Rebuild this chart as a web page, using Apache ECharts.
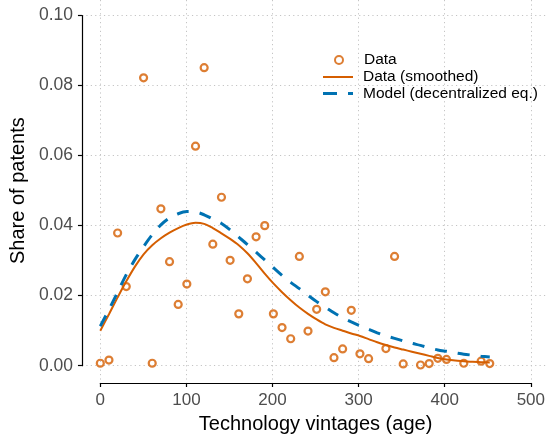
<!DOCTYPE html>
<html>
<head>
<meta charset="utf-8">
<script src="https://cdn.jsdelivr.net/npm/echarts@6/dist/echarts.min.js"></script>
<style>
  html, body { margin: 0; padding: 0; background: #fff; }
  #chart { width: 548px; height: 440px; }
</style>
</head>
<body>
<div id="chart"></div>
<script>
// observed shares by technology vintage
const dataAge = [0, 10, 20, 30, 50, 60, 70, 80, 90, 100, 110, 120, 130, 140, 150, 160, 170, 180, 190, 200,
    210, 220, 230, 240, 250, 260, 270, 280, 290, 300, 310, 330, 340, 350, 370, 380, 390, 400, 420, 440, 450];
const dataShare = [0.0007, 0.0016, 0.0379, 0.0226, 0.0822, 0.0007, 0.0448, 0.0297, 0.0175, 0.0233, 0.0627, 0.0851,
    0.0347, 0.0481, 0.0301, 0.0148, 0.0248, 0.0368, 0.0400, 0.0148, 0.0109, 0.0077, 0.0312, 0.0099, 0.0161,
    0.0211, 0.0023, 0.0048, 0.0158, 0.0034, 0.0020, 0.0049, 0.0312, 0.0005, 0.0002, 0.0006, 0.0021, 0.0018,
    0.0007, 0.0013, 0.0006];

// curves (smoothed data and model)
const curveAge = [0, 10, 20, 30, 40, 50, 60, 70, 80, 90, 100, 110, 120, 130, 140, 150, 160, 170, 180, 190, 200,
    210, 220, 230, 240, 250, 260, 270, 280, 290, 300, 310, 320, 330, 340, 350, 360, 370, 380, 390, 400,
    410, 420, 430, 440, 450];
const smoothShare = [0.0100, 0.0147, 0.0195, 0.0241, 0.0283, 0.0318, 0.0344, 0.0364, 0.0380, 0.0393, 0.0403,
    0.0408, 0.0405, 0.0393, 0.0378, 0.0362, 0.0344, 0.0321, 0.0293, 0.0263, 0.0235, 0.0210, 0.0187, 0.0166,
    0.0148, 0.0132, 0.0118, 0.0108, 0.0100, 0.0092, 0.0085, 0.0076, 0.0067, 0.0059, 0.0052, 0.0046, 0.0040,
    0.0034, 0.0028, 0.0022, 0.0018, 0.0015, 0.0013, 0.0011, 0.0010, 0.0009];
const modelShare = [0.0113, 0.0160, 0.0210, 0.0260, 0.0303, 0.0340, 0.0374, 0.0402, 0.0422, 0.0434, 0.0440,
    0.0439, 0.0431, 0.0419, 0.0406, 0.0388, 0.0367, 0.0346, 0.0324, 0.0302, 0.0280, 0.0258, 0.0238, 0.0220,
    0.0201, 0.0183, 0.0167, 0.0151, 0.0137, 0.0125, 0.0114, 0.0104, 0.0094, 0.0085, 0.0078, 0.0071, 0.0064,
    0.0058, 0.0051, 0.0045, 0.0041, 0.0037, 0.0033, 0.0030, 0.0027, 0.0025];

const orange = '#D55E00';
const blue = '#0072B2';
const font = 'Liberation Sans, Arial, sans-serif';

const chart = echarts.init(document.getElementById('chart'));

const gridLine = { show: true, lineStyle: { color: '#C4C4C4', width: 1, type: [1.2, 3.2] } };
const legendText = { fontSize: 15.5, lineHeight: 16.5, color: '#000', padding: [0, 0, 0, 5] };

chart.setOption({
    animation: false,
    textStyle: { fontFamily: font },
    grid: [
        { left: 80, right: 0, top: 0, bottom: 57 },        // panel holding the marks
        { left: 100.3, right: 15, top: 0, bottom: 57 },    // x axis 0..500
        { left: 80, right: 0, top: 15.5, bottom: 74.3 }     // y axis 0..0.10
    ],
    legend: [
        {
            data: ['Data'],
            orient: 'vertical',
            left: 334, top: 51.75, padding: 0,
            itemWidth: 30, itemHeight: 8,
            textStyle: legendText
        },
        {
            // line keys drawn as plain bars so no marker sits on them
            data: [
                { name: 'Data (smoothed)', icon: 'path://M0,0h30v2h-30z' },
                { name: 'Model (decentralized eq.)', icon: 'path://M0,0h14v3h-14z M25,0h5v3h-5z' }
            ],
            orient: 'vertical',
            left: 323, top: 68.75, padding: 0,
            itemWidth: 30, itemHeight: 3, itemGap: 0,
            itemStyle: { borderWidth: 0 },
            textStyle: legendText
        }
    ],
    xAxis: [
        { gridIndex: 0, type: 'value', min: -23.46, max: 517.3, show: false },
        {
            gridIndex: 1, type: 'value', min: 0, max: 500, interval: 100,
            name: 'Technology vintages (age)', nameLocation: 'middle', nameGap: 31,
            nameTextStyle: { fontSize: 20, color: '#000' },
            axisLine: { onZero: false, lineStyle: { color: '#000', width: 1.2 } },
            axisTick: { length: 4, lineStyle: { color: '#000', width: 1.2 } },
            axisLabel: { fontSize: 17, color: '#4D4D4D', margin: 9 },
            splitLine: gridLine
        },
        { gridIndex: 2, type: 'value', min: 0, max: 1, show: false }
    ],
    yAxis: [
        { gridIndex: 0, type: 'value', min: -0.00494, max: 0.10443, show: false },
        { gridIndex: 1, type: 'value', min: 0, max: 1, show: false },
        {
            gridIndex: 2, type: 'value', min: 0, max: 0.1, interval: 0.02,
            name: 'Share of patents', nameLocation: 'middle', nameGap: 50,
            nameTextStyle: { fontSize: 20, color: '#000' },
            axisLine: { show: true, onZero: false, lineStyle: { color: '#000', width: 1.2 } },
            axisTick: { show: true, length: 4, lineStyle: { color: '#000', width: 1.2 } },
            axisLabel: { fontSize: 17.5, color: '#4D4D4D', margin: 9, formatter: v => v.toFixed(2) },
            splitLine: gridLine
        }
    ],
    series: [
        {
            name: 'Data',
            type: 'scatter',
            xAxisIndex: 0, yAxisIndex: 0,
            symbol: 'circle',
            symbolSize: 7,
            itemStyle: { color: 'rgba(255,255,255,0)', borderColor: orange, borderWidth: 2.2 },
            data: dataAge.map((a, i) => [a, dataShare[i]])
        },
        {
            name: 'Data (smoothed)',
            type: 'line',
            xAxisIndex: 0, yAxisIndex: 0,
            symbol: 'none',
            smooth: 0.3,
            itemStyle: { color: orange },
            lineStyle: { color: orange, width: 2 },
            data: curveAge.map((a, i) => [a, smoothShare[i]])
        },
        {
            name: 'Model (decentralized eq.)',
            type: 'line',
            xAxisIndex: 0, yAxisIndex: 0,
            symbol: 'none',
            smooth: 0.3,
            itemStyle: { color: blue },
            lineStyle: { color: blue, width: 3, type: [12, 11] },
            data: curveAge.map((a, i) => [a, modelShare[i]])
        }
    ]
});
</script>
</body>
</html>
